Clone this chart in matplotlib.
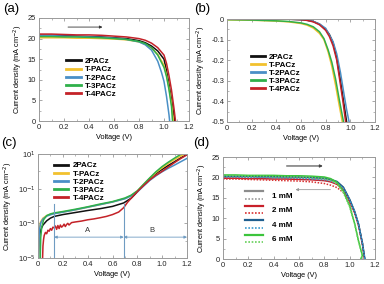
import numpy as np
import matplotlib
matplotlib.use("Agg")
import matplotlib.pyplot as plt
from matplotlib.lines import Line2D
from matplotlib.legend_handler import HandlerBase
from matplotlib.ticker import AutoMinorLocator, LogLocator, NullFormatter

plt.rcParams['font.family'] = ['Liberation Sans', 'DejaVu Sans']

names = ["2PACz", "T-PACz", "T-2PACz", "T-3PACz", "T-4PACz"]
colors = ["#111111", "#f2c12e", "#4a8fc6", "#2fb04a", "#c42228"]

# (a) light J-V
va = [
    [0, .1, .2, .3, .4, .5, .6, .7, .8, .85, .9, .95, 1.0, 1.02, 1.04, 1.06, 1.08, 1.085],
    [0, .1, .2, .3, .4, .5, .6, .7, .8, .85, .9, .95, 1.0, 1.02, 1.04, 1.06, 1.075],
    [0, .1, .2, .3, .4, .5, .6, .7, .8, .85, .9, .95, .98, 1.0, 1.02, 1.04, 1.045],
    [0, .1, .2, .3, .4, .5, .6, .7, .8, .85, .9, .95, 1.0, 1.02, 1.04, 1.06, 1.068],
    [0, .1, .2, .3, .4, .5, .6, .7, .8, .85, .9, .95, 1.0, 1.02, 1.04, 1.06, 1.08, 1.092],
]
ja = [
    [20.8, 20.8, 20.7, 20.6, 20.5, 20.4, 20.2, 20.0, 19.5, 19.0, 18.2, 17.0, 15.0, 12.2, 8.9, 5.2, 1.2, 0],
    [20.2, 20.2, 20.2, 20.1, 20.1, 20.0, 19.9, 19.7, 19.2, 18.6, 17.7, 16.2, 13.5, 11.2, 8.0, 4.2, 0],
    [20.7, 20.7, 20.6, 20.5, 20.4, 20.3, 20.1, 19.8, 19.2, 18.5, 17.2, 14.5, 11.8, 9.6, 6.0, 1.5, 0],
    [20.5, 20.5, 20.4, 20.4, 20.3, 20.2, 20.0, 19.8, 19.3, 18.8, 17.8, 16.0, 13.0, 10.8, 7.6, 3.5, 0],
    [21.1, 21.1, 21.0, 20.9, 20.9, 20.8, 20.6, 20.4, 20.0, 19.6, 18.9, 17.8, 16.0, 14.0, 11.0, 7.5, 3.0, 0],
]

# (b) dark J-V
vb = [
    [0, .3, .5, .6, .65, .7, .75, .8, .83, .86, .89, .92, .945, .97],
    [0, .2, .4, .5, .6, .65, .7, .75, .786, .82, .85, .88, .91, .935],
    [0, .3, .5, .6, .65, .7, .75, .8, .86, .89, .92, .95, .97, .99],
    [0, .2, .4, .5, .6, .65, .7, .75, .786, .82, .85, .88, .91, .945],
    [0, .3, .5, .6, .65, .7, .75, .8, .83, .86, .89, .915, .94, .962],
]
jb = [
    [0, 0, -0.001, -0.003, -0.006, -0.012, -0.025, -0.05, -0.075, -0.115, -0.19, -0.3, -0.4, -0.5],
    [-0.004, -0.006, -0.01, -0.014, -0.022, -0.03, -0.044, -0.07, -0.1, -0.16, -0.23, -0.32, -0.42, -0.5],
    [0, 0, -0.001, -0.003, -0.006, -0.012, -0.024, -0.045, -0.11, -0.17, -0.26, -0.37, -0.44, -0.5],
    [-0.003, -0.005, -0.009, -0.012, -0.019, -0.026, -0.038, -0.062, -0.095, -0.15, -0.21, -0.29, -0.39, -0.5],
    [0, 0, -0.001, -0.003, -0.007, -0.014, -0.028, -0.055, -0.085, -0.13, -0.2, -0.3, -0.4, -0.5],
]

# (c) dark J-V, log scale
vc = [
    [0.0, 0.01, 0.02, 0.04, 0.07, 0.1, 0.13, 0.2, 0.3, 0.4, 0.5, 0.6, 0.69, 0.75, 0.8, 0.85, 0.9, 0.95, 1.0, 1.05, 1.1, 1.15, 1.2],
    [0.005, 0.01, 0.02, 0.04, 0.07, 0.1, 0.13, 0.2, 0.3, 0.4, 0.5, 0.6, 0.7, 0.75, 0.8, 0.85, 0.9, 0.95, 1.0, 1.05, 1.1, 1.15, 1.2],
    [0.005, 0.01, 0.02, 0.04, 0.07, 0.1, 0.13, 0.2, 0.3, 0.4, 0.5, 0.6, 0.7, 0.75, 0.8, 0.85, 0.9, 0.95, 1.0, 1.05, 1.1, 1.15, 1.2],
    [0.018, 0.022, 0.03, 0.045, 0.07, 0.1, 0.13, 0.2, 0.3, 0.4, 0.5, 0.6, 0.7, 0.75, 0.8, 0.85, 0.9, 0.95, 1.0, 1.05, 1.1, 1.15, 1.2],
    [0.037, 0.04, 0.045, 0.05, 0.06, 0.07, 0.08, 0.09, 0.1, 0.11, 0.12, 0.13, 0.14, 0.15, 0.16, 0.17, 0.18, 0.19, 0.2,
     0.21, 0.22, 0.23, 0.24, 0.25, 0.27, 0.3, 0.35, 0.4, 0.45, 0.5, 0.55, 0.6, 0.65, 0.69, 0.72, 0.75, 0.8, 0.85, 0.9,
     0.95, 1.0, 1.05, 1.1, 1.15, 1.2],
]
jc = [
    [1e-5, 1.5e-4, 4e-4, 8e-4, 1.4e-3, 2e-3, 2.5e-3, 3.2e-3, 4.2e-3, 5.5e-3, 7e-3, 9.5e-3, 1.5e-2, 2.8e-2, 6.5e-2, 0.16,
     0.38, 0.75, 1.3, 2.2, 3.6, 6.0, 9.5],
    [1e-5, 4e-4, 1.2e-3, 2e-3, 2.8e-3, 3.3e-3, 3.7e-3, 4.5e-3, 6e-3, 8.5e-3, 1.2e-2, 1.7e-2, 2.7e-2, 4e-2, 7.2e-2, 0.17,
     0.4, 0.85, 1.6, 2.9, 4.8, 7.6, 11.5],
    [1e-5, 3e-4, 1e-3, 1.8e-3, 2.6e-3, 3.1e-3, 3.6e-3, 4.4e-3, 6e-3, 8.5e-3, 1.2e-2, 1.7e-2, 2.6e-2, 3.8e-2, 6.5e-2, 0.14,
     0.3, 0.55, 0.95, 1.5, 2.3, 3.6, 5.6],
    [1e-5, 1.5e-4, 6e-4, 1.6e-3, 2.8e-3, 3.5e-3, 4e-3, 4.8e-3, 6.5e-3, 9e-3, 1.3e-2, 1.8e-2, 2.9e-2, 4.2e-2, 7.6e-2, 0.18,
     0.42, 0.95, 1.9, 3.4, 5.8, 9.5, 14],
    [1e-5, 5e-5, 1.2e-4, 2e-4, 3e-4, 2.5e-4, 4e-4, 3.5e-4, 5e-4, 4e-4, 6e-4, 5.5e-4, 7e-4, 4.5e-4, 7.5e-4, 5e-4, 8e-4,
     6e-4, 7e-4, 9e-4, 6.5e-4, 8.5e-4, 1e-3, 8e-4, 1.1e-3, 1.2e-3, 1.35e-3, 1.6e-3, 1.8e-3, 2.1e-3, 2.5e-3, 3.2e-3,
     4.5e-3, 8e-3, 1.6e-2, 2.8e-2, 6.8e-2, 0.15, 0.32, 0.6, 1.0, 1.8, 3.2, 5.5, 9.0],
]
region_bounds = [0.13, 0.69, 1.2]

# (d) concentration series, forward (solid) and reverse (dotted)
conc = ["1 mM", "2 mM", "4 mM", "6 mM"]
col_fwd = ["#8c8c8c", "#c8202a", "#1f5f8f", "#3cc43c"]
col_rev = ["#9a9a9a", "#d83030", "#3a9ad0", "#66d05a"]
vd = [0, .1, .2, .3, .4, .5, .6, .7, .8, .85, .9, .95, 1.0, 1.04, 1.07, 1.1]
jd_fwd = [
    [20.2, 20.2, 20.2, 20.1, 20.1, 20.0, 20.0, 19.9, 19.7, 19.4, 18.9, 17.6, 14.6, 11.6, 8.5, 3.9],
    [19.8, 19.8, 19.7, 19.7, 19.6, 19.6, 19.5, 19.4, 19.2, 18.9, 18.3, 17.0, 14.2, 11.3, 8.3, 3.8],
    [20.3, 20.3, 20.3, 20.2, 20.2, 20.2, 20.1, 20.0, 19.8, 19.5, 19.0, 17.6, 14.6, 11.6, 8.6, 4.0],
    [20.6, 20.6, 20.5, 20.5, 20.5, 20.4, 20.4, 20.3, 20.1, 19.7, 18.8, 16.6, 13.0, 8.6, 4.4, 0.9],
]
jd_rev = [
    [20.0, 20.0, 20.0, 19.9, 19.9, 19.8, 19.8, 19.6, 19.3, 19.0, 18.5, 17.3, 14.4, 11.5, 8.4, 3.9],
    [19.6, 19.6, 19.5, 19.4, 19.3, 19.2, 19.1, 18.9, 18.5, 18.1, 17.5, 16.3, 13.8, 11.1, 8.2, 3.8],
    [20.1, 20.1, 20.0, 20.0, 19.9, 19.9, 19.8, 19.6, 19.4, 19.1, 18.6, 17.3, 14.5, 11.5, 8.5, 4.0],
    [20.4, 20.4, 20.3, 20.3, 20.2, 20.2, 20.1, 20.0, 19.7, 19.3, 18.4, 16.3, 12.8, 8.5, 4.3, 0.9],
]
voc_d = [1.118, 1.118, 1.12, 1.088]

W, H = 384, 284
fig = plt.figure(figsize=(W / 100, H / 100), dpi=100)


def px_axes(l, t, r, b):
    return fig.add_axes([l / W, 1 - b / H, (r - l) / W, (b - t) / H])


spine_c = "#9a9a9a"
tick_fs = 5.4
lab_fs = 5.3


def style(ax):
    for s in ax.spines.values():
        s.set_color(spine_c)
        s.set_linewidth(0.7)
    ax.tick_params(which='both', direction='in', top=True, right=True, color=spine_c,
                   labelsize=tick_fs, labelcolor="#222222", pad=2)
    ax.tick_params(which='major', length=2.5, width=0.6)
    ax.tick_params(which='minor', length=1.5, width=0.5)
    ax.set_xlim(0, 1.2)
    ax.set_xticks([0, 0.2, 0.4, 0.6, 0.8, 1.0, 1.2])
    ax.set_xticklabels(["0", "0.2", "0.4", "0.6", "0.8", "1.0", "1.2"])
    ax.xaxis.set_minor_locator(AutoMinorLocator(2))
    ax.set_xlabel("Voltage (V)", fontsize=lab_fs, labelpad=2)
    ax.set_ylabel("Current density (mA cm$^{-2}$)", fontsize=lab_fs, labelpad=2)


def add_legend(ax, anchor):
    leg = ax.legend(loc='upper left', bbox_to_anchor=anchor, frameon=False,
                    prop={'weight': 'bold', 'size': 5.8}, handlelength=1.8, handletextpad=0.5,
                    labelspacing=0.06, borderpad=0, borderaxespad=0)
    for h in leg.get_lines():
        h.set_linewidth(2.0)
    return leg


# (a)
ax = px_axes(39, 18, 189, 121)
style(ax)
for v, j, c, n in zip(va, ja, colors, names):
    ax.plot(v, j, color=c, lw=1.1, label=n)
ax.set_ylim(0, 25)
ax.set_yticks([0, 5, 10, 15, 20, 25])
ax.yaxis.set_minor_locator(AutoMinorLocator(2))
ax.annotate("", xy=(0.53, 22.8), xytext=(0.21, 22.8),
            arrowprops=dict(arrowstyle='-|>', color="#333333", lw=0.6, mutation_scale=4))
add_legend(ax, (0.18, 0.615))
fig.text(3 / W, 1 - 9 / H, "(a)", fontsize=9.5, va='center')

# (b)
ax = px_axes(227, 19, 375, 122)
style(ax)
for v, j, c, n in zip(vb, jb, colors, names):
    ax.plot(v, j, color=c, lw=1.1, label=n)
ax.set_ylim(-0.5, 0)
ax.set_yticks([0, -0.1, -0.2, -0.3, -0.4, -0.5])
ax.set_yticklabels(["0", "-0.1", "-0.2", "-0.3", "-0.4", "-0.5"])
ax.yaxis.set_minor_locator(AutoMinorLocator(2))
add_legend(ax, (0.16, 0.67))
fig.text(194 / W, 1 - 9 / H, "(b)", fontsize=9.5, va='center')

# (c)
ax = px_axes(38, 154, 187, 258)
style(ax)
for v, j, c, n in zip(vc, jc, colors, names):
    ax.plot(v, j, color=c, lw=1.1, label=n)
ax.set_yscale('log')
ax.set_ylim(1e-5, 1e1)
ax.set_yticks([1e1, 1e-1, 1e-3, 1e-5])
ax.set_yticklabels(["10$^{1}$", "10$^{-1}$", "10$^{-3}$", "10$^{-5}$"])
ax.yaxis.set_minor_locator(LogLocator(base=10, subs=[1.0], numticks=20))
ax.yaxis.set_minor_formatter(NullFormatter())
blue_c = "#6f9cc2"
for xb in region_bounds[:2]:
    ax.plot([xb, xb], [1e-5, 1.3e-2], color=blue_c, lw=0.8)
ax.annotate("", xy=(region_bounds[0], 1.6e-4), xytext=(region_bounds[1], 1.6e-4),
            arrowprops=dict(arrowstyle='<|-|>', color=blue_c, lw=0.6, mutation_scale=4, shrinkA=0, shrinkB=0))
ax.annotate("", xy=(region_bounds[1], 1.6e-4), xytext=(region_bounds[2], 1.6e-4),
            arrowprops=dict(arrowstyle='<|-|>', color=blue_c, lw=0.6, mutation_scale=4, shrinkA=0, shrinkB=0))
ax.text(0.40, 3.2e-4, "A", fontsize=5.5, ha='center', color="#333333")
ax.text(0.92, 3.2e-4, "B", fontsize=5.5, ha='center', color="#333333")
add_legend(ax, (0.107, 0.925))
fig.text(1 / W, 1 - 143 / H, "(c)", fontsize=9.5, va='center')


# (d)
class StackHandler(HandlerBase):
    def create_artists(self, legend, orig_handle, xdescent, ydescent, width, height, fontsize, trans):
        top, bot = orig_handle
        l1 = Line2D([0, width], [height * 1.15] * 2, color=top.get_color(), lw=1.6, ls='-', transform=trans)
        l2 = Line2D([0, width], [-height * 0.15] * 2, color=bot.get_color(), lw=1.2, ls=(0, (1, 1)),
                    transform=trans)
        return [l1, l2]


ax = px_axes(223, 157, 375, 259)
style(ax)
pairs = []
for k in range(4):
    vv = vd + [voc_d[k]]
    lf, = ax.plot(vv, jd_fwd[k] + [0], color=col_fwd[k], lw=1.1)
    lr, = ax.plot(vv, jd_rev[k] + [0], color=col_rev[k], lw=1.1, ls=(0, (1, 1)))
    pairs.append((lf, lr))
ax.set_ylim(0, 25)
ax.set_yticks([0, 5, 10, 15, 20, 25])
ax.yaxis.set_minor_locator(AutoMinorLocator(2))
ax.annotate("", xy=(0.81, 22.8), xytext=(0.48, 22.8),
            arrowprops=dict(arrowstyle='-|>', color="#444444", lw=0.8, mutation_scale=4))
ax.annotate("", xy=(0.55, 17.0), xytext=(0.87, 17.0),
            arrowprops=dict(arrowstyle='-|>', color="#9a9a9a", lw=0.6, mutation_scale=4))
leg = ax.legend(pairs, conc, handler_map={tuple: StackHandler()}, loc='upper left',
                bbox_to_anchor=(0.145, 0.655), frameon=False, prop={'weight': 'bold', 'size': 5.8},
                handlelength=2.2, handletextpad=1.1, labelspacing=0.85, borderpad=0, borderaxespad=0)
fig.text(193 / W, 1 - 143 / H, "(d)", fontsize=9.5, va='center')

fig.savefig("out.png", dpi=100)
